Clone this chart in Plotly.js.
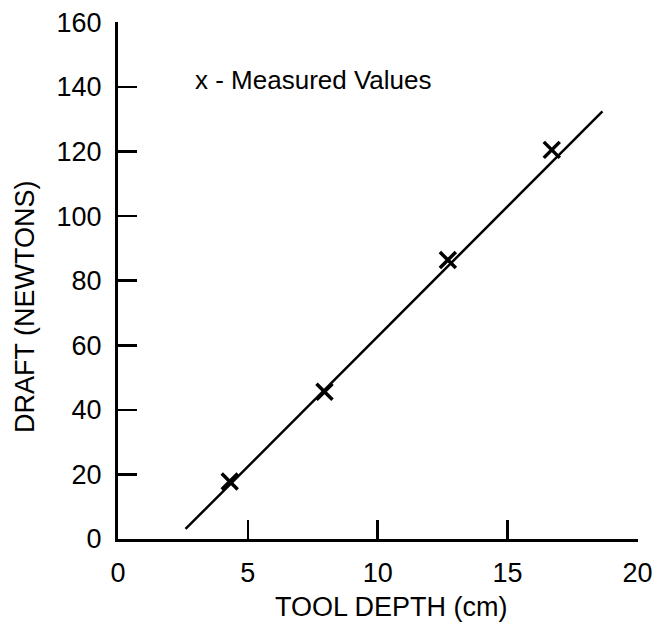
<!DOCTYPE html>
<html>
<head>
<meta charset="utf-8">
<script src="https://cdn.plot.ly/plotly-3.0.1.min.js"></script>
<style>html,body{margin:0;padding:0;background:#fff;}#chart{width:658px;height:629px;}</style>
</head>
<body>
<div id="chart"></div>
<script>
// Measured values
const toolDepth = [4.3, 7.95, 12.7, 16.7];
const draft = [17.8, 45.6, 86.4, 120.5];
// Fitted line endpoints
const fitDepth = [2.6, 18.65];
const fitDraft = [3.1, 132.4];
const xTicks = [0, 5, 10, 15, 20];
const yTicks = [0, 20, 40, 60, 80, 100, 120, 140, 160];
const legendText = "x - Measured Values";
const xTitle = "TOOL DEPTH (cm)";
const yTitle = "DRAFT (NEWTONS)";

const fam = "Liberation Sans, Arial, Helvetica, sans-serif";
const f = (s) => ({family: fam, size: s, color: "#000"});

const traces = [
  {x: fitDepth, y: fitDraft, mode: "lines", line: {color: "#000", width: 2.5}, hoverinfo: "skip"},
  {x: toolDepth, y: draft, mode: "markers",
   marker: {symbol: "x-thin-open", size: 16, color: "#000", line: {color: "#000", width: 3.5}}}
];

const L = 118, R = 20, T = 22, B = 90;
const pw = 658 - L - R, ph = 629 - T - B;

const layout = {
  width: 658, height: 629,
  margin: {l: L, r: R, t: T, b: B},
  paper_bgcolor: "#fff", plot_bgcolor: "#fff",
  showlegend: false,
  font: f(27),
  xaxis: {
    range: [0, 20.02], tickvals: xTicks, ticktext: xTicks.map(String),
    showgrid: false, zeroline: false, showline: true, linecolor: "#000", linewidth: 3,
    ticks: "inside", ticklen: 19, tickwidth: 2.5, tickcolor: "#000",
    ticklabelstandoff: 8, tickfont: f(27)
  },
  yaxis: {
    range: [0, 160.1], tickvals: yTicks, ticktext: yTicks.map(String),
    showgrid: false, zeroline: false, showline: true, linecolor: "#000", linewidth: 3,
    ticks: "inside", ticklen: 19, tickwidth: 2.5, tickcolor: "#000",
    ticklabelstandoff: 8, tickfont: f(27)
  },
  annotations: [
    {x: 2.9, y: 142, xref: "x", yref: "y", xanchor: "left", yanchor: "middle",
     text: legendText, showarrow: false, font: f(26)},
    {x: (391 - L) / pw, y: (629 - B - 607) / ph, xref: "paper", yref: "paper",
     text: xTitle, showarrow: false, font: f(27), xanchor: "center", yanchor: "middle"},
    {x: (25 - L) / pw, y: (629 - B - 307) / ph, xref: "paper", yref: "paper",
     text: yTitle, showarrow: false, font: f(27), textangle: -90, xanchor: "center", yanchor: "middle"}
  ]
};

Plotly.newPlot("chart", traces, layout, {displayModeBar: false, staticPlot: true});
</script>
</body>
</html>
